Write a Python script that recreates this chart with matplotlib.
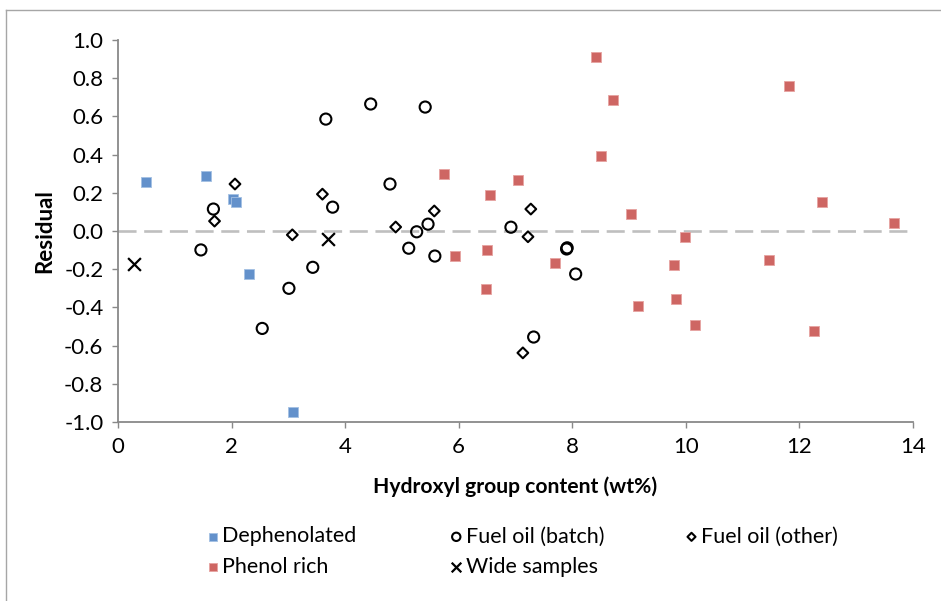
import matplotlib
matplotlib.use("Agg")
import matplotlib.pyplot as plt
from matplotlib.lines import Line2D

plt.rcParams['font.family'] = ['Lato', 'DejaVu Sans']
plt.rcParams['axes.unicode_minus'] = False
plt.rcParams['lines.scale_dashes'] = False

# Dephenolated (blue squares)
deph_x = [0.49, 1.55, 2.03, 2.08, 2.31, 3.08]
deph_y = [0.257, 0.288, 0.168, 0.152, -0.225, -0.948]

# Fuel oil (batch) (open circles)
batch_x = [1.46, 1.68, 2.54, 3.01, 3.43, 3.66, 3.78, 4.45, 4.79, 5.12, 5.26,
           5.41, 5.46, 5.58, 6.92, 7.32, 7.90, 7.91, 8.06]
batch_y = [-0.099, 0.115, -0.51, -0.30, -0.19, 0.586, 0.125, 0.665, 0.246, -0.09,
           -0.004, 0.649, 0.036, -0.131, 0.02, -0.555, -0.094, -0.088, -0.225]

# Fuel oil (other) (open diamonds)
other_x = [1.70, 2.06, 3.07, 3.60, 4.89, 5.57, 7.13, 7.22, 7.27]
other_y = [0.052, 0.246, -0.02, 0.193, 0.021, 0.105, -0.638, -0.03, 0.115]

# Phenol rich (red squares)
phen_x = [5.74, 5.93, 6.48, 6.50, 6.55, 7.04, 7.69, 8.42, 8.50, 8.71, 9.03,
          9.15, 9.79, 9.82, 9.98, 10.16, 11.46, 11.81, 12.25, 12.39, 13.66]
phen_y = [0.298, -0.131, -0.305, -0.098, 0.188, 0.267, -0.169, 0.91, 0.393, 0.686,
          0.09, -0.39, -0.18, -0.355, -0.03, -0.49, -0.153, 0.76, -0.522, 0.153, 0.042]

# Wide samples (crosses)
wide_x = [0.29, 3.70]
wide_y = [-0.173, -0.042]

fig = plt.figure(figsize=(9.41, 6.01), dpi=100)
ax = fig.add_axes([0.1254, 0.2978, 0.8448, 0.6356])

# zero reference line
ax.plot([0, 14], [0, 0], color='#BFBFBF', lw=1.9, dashes=(13, 5.5), zorder=1)

h_deph = ax.scatter(deph_x, deph_y, marker='s', s=58, facecolor='#6391CB',
                    edgecolor='#A4C0E3', linewidth=0.6, label='Dephenolated', zorder=3)
h_batch = ax.scatter(batch_x, batch_y, marker='o', s=64, facecolor='none',
                     edgecolor='black', linewidth=1.5, label='Fuel oil (batch)', zorder=3)
h_other = ax.scatter(other_x, other_y, marker='D', s=30, facecolor='none',
                     edgecolor='black', linewidth=1.5, label='Fuel oil (other)', zorder=3)
h_phen = ax.scatter(phen_x, phen_y, marker='s', s=58, facecolor='#CE6663',
                    edgecolor='#E6A3A1', linewidth=0.6, label='Phenol rich', zorder=3)
h_wide = ax.scatter(wide_x, wide_y, marker='x', s=85, color='black', linewidth=1.6,
                    label='Wide samples', zorder=3)

ax.set_xlim(0, 14)
ax.set_ylim(-1.0, 1.0)
ax.set_xticks(range(0, 15, 2))
ax.set_yticks([-1.0, -0.8, -0.6, -0.4, -0.2, 0.0, 0.2, 0.4, 0.6, 0.8, 1.0])
ax.yaxis.set_major_formatter(matplotlib.ticker.FormatStrFormatter('%.1f'))

for side in ['top', 'right']:
    ax.spines[side].set_visible(False)
for side in ['left', 'bottom']:
    ax.spines[side].set_color('#898989')
    ax.spines[side].set_linewidth(1.3)
ax.tick_params(direction='out', length=4.5, width=1, color='#898989',
               labelsize=16, pad=6)

ax.set_xlabel('Hydroxyl group content (wt%)', fontsize=15.2, fontweight='bold', labelpad=14)
ax.set_ylabel('Residual', fontsize=16, fontweight='bold', labelpad=6)

# legend: three columns placed like the original
leg_kw = dict(loc='upper left', frameon=False, fontsize=15.5, handletextpad=0.15,
              labelspacing=0.47, markerscale=0.75, handlelength=0.6,
              borderpad=0, borderaxespad=0)
cols = [([h_deph, h_phen], ['Dephenolated', 'Phenol rich'], 0.219),
        ([h_batch, h_wide], ['Fuel oil (batch)', 'Wide samples'], 0.478),
        ([h_other], ['Fuel oil (other)'], 0.728)]
for hs, ls, x0 in cols:
    lg = fig.legend(hs, ls, bbox_to_anchor=(x0, 0.124), **leg_kw)

# outer chart border (top and left visible)
fig.add_artist(Line2D([0.006, 1.0], [0.983, 0.983], transform=fig.transFigure,
                      color='#A6A6A6', lw=1))
fig.add_artist(Line2D([0.006, 0.006], [0.0, 0.983], transform=fig.transFigure,
                      color='#A6A6A6', lw=1))

fig.savefig('out.png', dpi=100)
